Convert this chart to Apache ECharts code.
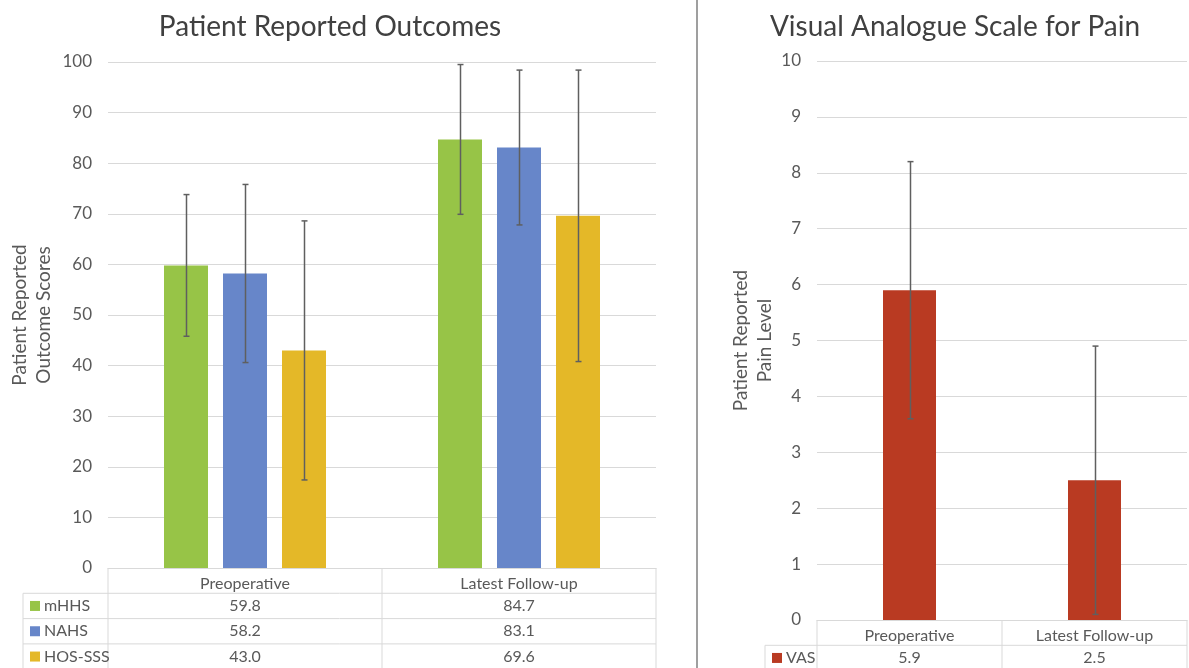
<!DOCTYPE html>
<html lang="en">
<head>
  <meta charset="utf-8">
</head>
<body style="margin: 0">
  <div id="container" style="width: 1189px; height: 668px"></div>
  <script src="https://cdn.jsdelivr.net/npm/echarts@6.0.0/dist/echarts.min.js"></script>
  <script>
    // data
    var categories = ['Preoperative', 'Latest Follow-up'];
    var mhhs = [59.8, 84.7];
    var nahs = [58.2, 83.1];
    var hosSss = [43.0, 69.6];
    var mhhsSD = [14.0, 14.8];
    var nahsSD = [17.6, 15.3];
    var hosSssSD = [25.6, 28.8];
    var vas = [5.9, 2.5];
    var vasSD = [2.3, 2.4];
    var proTicks = [0, 100, 10];   // min, max, interval
    var vasTicks = [0, 10, 1];

    var FONT = 'Lato';
    var TXT = '#595959';
    var LINE = '#d9d9d9';
    var colors = { mHHS: '#97c447', NAHS: '#6786c9', 'HOS-SSS': '#e4b828', VAS: '#b93a22' };

    var proSeries = [
      { name: 'mHHS', values: mhhs, sd: mhhsSD },
      { name: 'NAHS', values: nahs, sd: nahsSD },
      { name: 'HOS-SSS', values: hosSss, sd: hosSssSD }
    ];
    var vasSeries = [{ name: 'VAS', values: vas, sd: vasSD }];

    var dom = document.getElementById('container');
    var myChart = echarts.init(dom, null, { renderer: 'canvas' });

    var BAR_W = 44, BAR_GAP = 15, VAS_W = 53;

    function errorBars(s, k, n, gridIdx, barW) {
      var off = (k - (n - 1) / 2) * (barW + BAR_GAP);
      return {
        type: 'custom',
        xAxisIndex: gridIdx,
        yAxisIndex: gridIdx,
        z: 10,
        silent: true,
        data: s.values.map(function (v, i) { return [i, v - s.sd[i], v + s.sd[i]]; }),
        renderItem: function (params, api) {
          var lo = api.coord([api.value(0), api.value(1)]);
          var hi = api.coord([api.value(0), api.value(2)]);
          var x = Math.round(lo[0] + off) + 0.5;
          var st = { stroke: '#5f5f5f', lineWidth: 1.5 };
          return {
            type: 'group',
            children: [
              { type: 'line', shape: { x1: x, y1: hi[1], x2: x, y2: lo[1] }, style: st },
              { type: 'line', shape: { x1: x - 3, y1: hi[1], x2: x + 3, y2: hi[1] }, style: st },
              { type: 'line', shape: { x1: x - 3, y1: lo[1], x2: x + 3, y2: lo[1] }, style: st }
            ]
          };
        }
      };
    }

    function valueAxis(gridIdx, ticks, name, gap) {
      return {
        type: 'value', gridIndex: gridIdx,
        min: ticks[0], max: ticks[1], interval: ticks[2],
        axisLine: { show: false }, axisTick: { show: false },
        axisLabel: { color: TXT, fontFamily: FONT, fontSize: 17, margin: 16 },
        splitLine: { lineStyle: { color: LINE, width: 1 } },
        name: name, nameLocation: 'middle', nameRotate: 90, nameGap: gap,
        nameTextStyle: { color: TXT, fontFamily: FONT, fontSize: 19, lineHeight: 24 }
      };
    }

    function catAxis(gridIdx) {
      return {
        type: 'category', gridIndex: gridIdx, data: categories,
        axisLine: { lineStyle: { color: LINE } },
        axisTick: { show: false },
        axisLabel: { color: TXT, fontFamily: FONT, fontSize: 16, margin: 8 }
      };
    }

    var series = [];
    proSeries.forEach(function (s) {
      series.push({
        type: 'bar', name: s.name, xAxisIndex: 0, yAxisIndex: 0,
        data: s.values, barWidth: BAR_W, barGap: (BAR_GAP / BAR_W * 100) + '%',
        itemStyle: { color: colors[s.name] }
      });
    });
    vasSeries.forEach(function (s) {
      series.push({
        type: 'bar', name: s.name, xAxisIndex: 1, yAxisIndex: 1,
        data: s.values, barWidth: VAS_W,
        itemStyle: { color: colors[s.name] }
      });
    });
    proSeries.forEach(function (s, k) { series.push(errorBars(s, k, proSeries.length, 0, BAR_W)); });
    vasSeries.forEach(function (s, k) { series.push(errorBars(s, k, 1, 1, VAS_W)); });

    var option = {
      animation: false,
      backgroundColor: '#fff',
      title: [
        { text: 'Patient Reported Outcomes', left: 325, top: 8, textAlign: 'center',
          textStyle: { color: '#404040', fontFamily: FONT, fontSize: 28, fontWeight: 'normal' } },
        { text: 'Visual Analogue Scale for Pain', left: 950, top: 8, textAlign: 'center',
          textStyle: { color: '#404040', fontFamily: FONT, fontSize: 28, fontWeight: 'normal' } }
      ],
      grid: [
        { left: 108, right: 533, top: 62, bottom: 100, outerBoundsMode: 'none' },
        { left: 817, right: 2, top: 61, bottom: 48, outerBoundsMode: 'none' }
      ],
      xAxis: [catAxis(0), catAxis(1)],
      yAxis: [
        valueAxis(0, proTicks, 'Patient Reported\nOutcome Scores', 52),
        valueAxis(1, vasTicks, 'Patient Reported\nPain Level', 40)
      ],
      series: series
    };

    myChart.setOption(option);

    // data table under each chart, laid out from the axes
    function table(gridIdx, rows, legendLeft) {
      var els = [];
      var c0 = myChart.convertToPixel({ xAxisIndex: gridIdx }, 0);
      var c1 = myChart.convertToPixel({ xAxisIndex: gridIdx }, 1);
      var band = c1 - c0;
      var left = c0 - band / 2, right = c1 + band / 2;
      var top = myChart.convertToPixel({ yAxisIndex: gridIdx }, 0);
      var rowH = 25.3;
      var ln = { stroke: LINE, lineWidth: 1 };
      var bottom = top + rowH * (rows.length + 1);
      // header vertical lines
      [left, c0 + band / 2, right].forEach(function (x) {
        els.push({ type: 'line', shape: { x1: x, y1: top, x2: x, y2: bottom }, style: ln });
      });
      els.push({ type: 'line', shape: { x1: legendLeft, y1: top + rowH, x2: legendLeft, y2: bottom }, style: ln });
      rows.forEach(function (r, i) {
        var y = top + rowH * (i + 1);
        els.push({ type: 'line', shape: { x1: legendLeft, y1: y, x2: right, y2: y }, style: ln });
        els.push({ type: 'rect', shape: { x: legendLeft + 7, y: y + rowH / 2 - 5, width: 10, height: 10 },
          style: { fill: colors[r.name] } });
        els.push({ type: 'text', x: legendLeft + 21, y: y + rowH / 2,
          style: { text: r.name, fill: TXT, font: '16px ' + FONT, verticalAlign: 'middle' } });
        r.values.forEach(function (v, j) {
          els.push({ type: 'text', x: j === 0 ? c0 : c1, y: y + rowH / 2,
            style: { text: v.toFixed(1), fill: TXT, font: '16px ' + FONT, align: 'center', verticalAlign: 'middle' } });
        });
      });
      els.push({ type: 'line', shape: { x1: legendLeft, y1: bottom, x2: right, y2: bottom }, style: ln });
      return els;
    }

    var graphics = [].concat(table(0, proSeries, 23), table(1, vasSeries, 765));
    graphics.push({ type: 'line', shape: { x1: 697, y1: 0, x2: 697, y2: 668 },
      style: { stroke: '#7f7f7f', lineWidth: 1.5 } });
    myChart.setOption({ graphic: graphics });

    window.addEventListener('resize', myChart.resize);
  </script>
</body>
</html>
